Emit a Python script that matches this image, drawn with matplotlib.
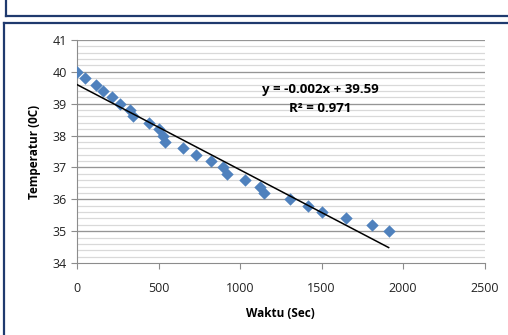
import numpy as np
import matplotlib.pyplot as plt
from matplotlib.lines import Line2D

# Time (sec) and temperature (C)
waktu = [0, 47, 117, 162, 215, 264, 326, 346, 440, 501, 526, 542, 649, 731,
         823, 897, 920, 1030, 1124, 1149, 1308, 1415, 1505, 1652, 1808, 1912]
temperatur = [40.0, 39.8, 39.6, 39.4, 39.2, 39.0, 38.8, 38.6, 38.4, 38.2, 38.0,
              37.8, 37.6, 37.4, 37.2, 37.0, 36.8, 36.6, 36.4, 36.2, 36.0, 35.8,
              35.6, 35.4, 35.2, 35.0]
x_ticks = [0, 500, 1000, 1500, 2000, 2500]
y_ticks = [34, 35, 36, 37, 38, 39, 40, 41]
eq_text = "y = -0.002x + 39.59"
r2_text = "R² = 0.971"

plt.rcParams['font.family'] = ['Open Sans', 'DejaVu Sans']

W, H = 508, 335
fig = plt.figure(figsize=(W / 100, H / 100), dpi=100)

# Excel chart frames (previous chart bottom and this chart's border)
navy = '#1f3a6e'
fig.add_artist(Line2D([6 / W, 6 / W], [1.02, 1 - 16 / H], color=navy, lw=1.6))
fig.add_artist(Line2D([6 / W, 1.02], [1 - 16 / H, 1 - 16 / H], color=navy, lw=1.6))
fig.add_artist(Line2D([4 / W, 4 / W], [-0.02, 1 - 23 / H], color=navy, lw=1.6))
fig.add_artist(Line2D([4 / W, 1.02], [1 - 23 / H, 1 - 23 / H], color=navy, lw=1.6))

ax = fig.add_axes([77 / W, 1 - 263 / H, (484.5 - 77) / W, (263 - 40) / H])

# Minor and major horizontal gridlines
for yv in np.arange(34.2, 41.0, 0.2):
    ax.axhline(yv, color='#d9d9d9', lw=0.9, zorder=0)
for yv in y_ticks[1:]:
    ax.axhline(yv, color='#959595', lw=0.9, zorder=0)

ax.scatter(waktu, temperatur, marker='D', s=40, color='#4f81bd', zorder=3,
           linewidths=0)

# Linear trendline
coef = np.polyfit(waktu, temperatur, 1)
xs = np.array([min(waktu), max(waktu)])
ax.plot(xs, np.polyval(coef, xs), color='black', lw=1.1, zorder=4)

ax.text(1493, 39.45, eq_text, ha='center', va='center', fontsize=9.5,
        fontweight='bold')
ax.text(1493, 38.86, r2_text, ha='center', va='center', fontsize=9.5,
        fontweight='bold')

ax.set_xlim(0, 2500)
ax.set_ylim(34, 41)
ax.set_xticks(x_ticks)
ax.set_yticks(y_ticks)
ax.tick_params(axis='both', labelsize=9, color='#8c8c8c', length=4,
               labelcolor='#222222')
ax.tick_params(axis='x', pad=10)
for side in ['top', 'right']:
    ax.spines[side].set_visible(False)
for side in ['left', 'bottom']:
    ax.spines[side].set_color('#8c8c8c')

ax.set_xlabel("Waktu (Sec)", fontsize=8.5, fontweight='bold', labelpad=8)
ax.set_ylabel("Temperatur (0C)", fontsize=8.5, fontweight='bold', labelpad=8)

fig.savefig('out.png', dpi=100)
